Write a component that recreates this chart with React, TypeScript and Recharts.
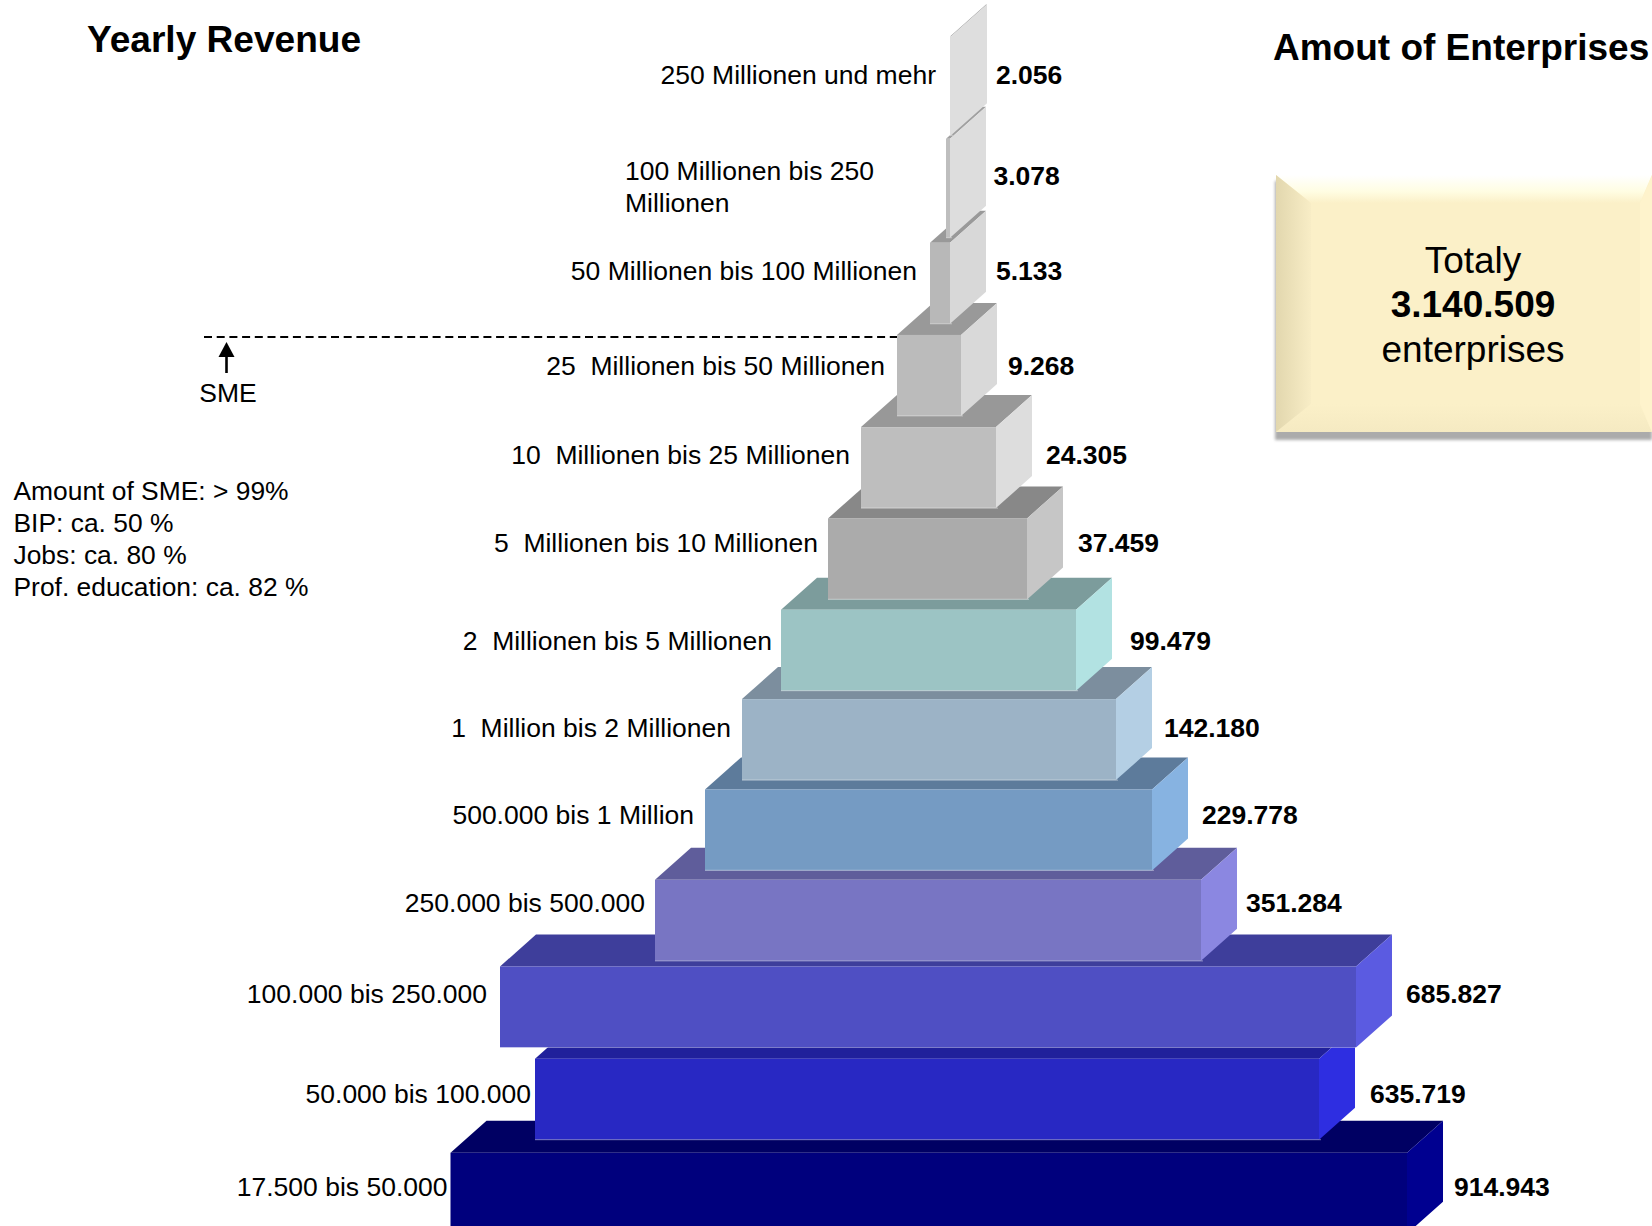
import React from "react";
import { BarChart, Bar, XAxis, YAxis, LabelList, ReferenceLine } from "recharts";

// Listed from the bottom of the pyramid to its top (lower blocks are painted first).
const bands = [
  "17.500 bis 50.000",
  "50.000 bis 100.000",
  "100.000 bis 250.000",
  "250.000 bis 500.000",
  "500.000 bis 1 Million",
  "1  Million bis 2 Millionen",
  "2  Millionen bis 5 Millionen",
  "5  Millionen bis 10 Millionen",
  "10  Millionen bis 25 Millionen",
  "25  Millionen bis 50 Millionen",
  "50 Millionen bis 100 Millionen",
  "100 Millionen bis 250|Millionen",
  "250 Millionen und mehr",
];
const enterprises = [
  "914.943", "635.719", "685.827", "351.284", "229.778", "142.180", "99.479",
  "37.459", "24.305", "9.268", "5.133", "3.078", "2.056",
];
// Extent of each block left and right of the pyramid's axis.
const leftExtent = [477.5, 393, 428, 273, 223, 186, 147, 100, 67, 31, -2, -18, -22];
const rightExtent = [479, 391, 428, 273, 224, 188, 148, 99, 68, 33, 22, 22, 23];
// Height of each block's centre, in rows counted from the top of the picture.
const rowLevels = [12.94, 11.92, 10.92, 9.98, 9.0, 8.02, 7.05, 6.06, 5.07, 4.07, 3.07, 2.04, 0.93];

const PX_PER_ROW = 92.2;
const frontColors = ["#00007D", "#2828C3", "#4F4FC3", "#7875C3", "#759BC3", "#9CB3C6", "#9CC4C4", "#ABABAB", "#BEBEBE", "#BBBBBB", "#B8B8B8", "#BEBEBE", "#DEDEDE"];
const sideColors = ["#000090", "#2E2EE1", "#5B5BE1", "#8B87E1", "#87B3E1", "#B4CFE4", "#B2E2E2", "#C6C6C6", "#DDDDDD", "#D9D9D9", "#D8D8D8", "#DDDDDD", "#DEDEDE"];
const topColors = ["#000063", "#20209B", "#3E3E9B", "#5F5D9B", "#5D7B9B", "#7C8E9E", "#7C9C9C", "#888888", "#989898", "#999999", "#999999", "#A0A0A0", "#A0A0A0"];
const labelGapX = [3, 4, 13, 10, 11, 11, 9, 10, 11, 12, 13, 0, 14];
const labelNudgeY = [-6, -5, -13, -17, -15, -12, -9, -16, -13, -9, -12, 0, -11];
const valueGapX = [11, 15, 14, 9, 14, 12, 18, 15, 14, 11, 10, 7.5, 9];
const valueNudgeY = [-6, -5, -13, -17, -15, -12, -9, -16, -13, -9, -12, -12, -11];
const tallRows = [11, 12];

const rows = bands.map((band, i) => ({
  band,
  count: enterprises[i],
  level: rowLevels[i],
  span: [-leftExtent[i], rightExtent[i]],
}));

const FONT = "'Liberation Sans', Arial, sans-serif";
const DX = 36;
const DY = 32;
const BAR_H = 81;

function Block(props: any) {
  const { x, y, width, height, index } = props;
  const h = tallRows.includes(index) ? height * 1.22 : height;
  const top = y + height / 2 - h / 2;
  const r = x + width;
  const b = top + h;
  return (
    <g>
      <polygon points={`${x},${top} ${x + DX},${top - DY} ${r + DX},${top - DY} ${r},${top}`} fill={topColors[index]} />
      <polygon points={`${r},${top} ${r + DX},${top - DY} ${r + DX},${b - DY} ${r},${b}`} fill={sideColors[index]} />
      <rect x={x} y={top} width={width} height={h} fill={frontColors[index]} />
      <line x1={x} x2={r + 2} y1={b} y2={b} stroke="#FFFFFF" strokeOpacity={0.35} strokeWidth={1.2} />
    </g>
  );
}

function BandLabel(props: any) {
  const { x, y, height, value, index } = props;
  const cy = y + height / 2 + labelNudgeY[index];
  const lines = String(value).split("|");
  if (lines.length > 1) {
    return (
      <text fontFamily={FONT} fontSize={26.5} fill="#000">
        <tspan x={625} y={180}>{lines[0]}</tspan>
        <tspan x={625} y={212}>{lines[1]}</tspan>
      </text>
    );
  }
  return (
    <text x={x - labelGapX[index]} y={cy + 9} textAnchor="end" fontFamily={FONT} fontSize={26.5} fill="#000" xmlSpace="preserve">
      {value}
    </text>
  );
}

function CountLabel(props: any) {
  const { x, y, width, height, value, index } = props;
  return (
    <text x={x + width + DX + valueGapX[index]} y={y + height / 2 + valueNudgeY[index] + 9} fontFamily={FONT} fontSize={26.5} fontWeight="bold" fill="#000">
      {value}
    </text>
  );
}

function TotalBox() {
  const L = 1276, T = 175, R = 1652, B = 432, EX = 35, EY = 28, RX = 12;
  return (
    <g>
      <defs>
        <linearGradient id="bevelLeft" x1="0" x2="1" y1="0" y2="0">
          <stop offset="0" stopColor="#E2D7AE" />
          <stop offset="1" stopColor="#F8EDC6" />
        </linearGradient>
        <linearGradient id="bevelTop" x1="0" x2="0" y1="0" y2="1">
          <stop offset="0" stopColor="#FFFFFF" />
          <stop offset="0.6" stopColor="#FFFDE2" />
          <stop offset="1" stopColor="#FBF0C8" />
        </linearGradient>
        <linearGradient id="bevelBottom" x1="0" x2="0" y1="0" y2="1">
          <stop offset="0" stopColor="#FBF0C8" />
          <stop offset="1" stopColor="#F5EAC2" />
        </linearGradient>
        <filter id="boxShadow" x="-5%" y="-5%" width="110%" height="115%">
          <feGaussianBlur stdDeviation="1.5" />
        </filter>
      </defs>
      <rect x={L - 1} y={T + 6} width={R - L + 1} height={B - T + 2} fill="#ABABAB" filter="url(#boxShadow)" />
      <rect x={L} y={T} width={R - L} height={B - T} fill="#FBF0C8" />
      <polygon points={`${L},${T} ${R},${T} ${R - RX},${T + EY} ${L + EX},${T + EY}`} fill="url(#bevelTop)" />
      <polygon points={`${L},${B} ${L + EX},${B - EY} ${R - RX},${B - EY} ${R},${B}`} fill="url(#bevelBottom)" />
      <polygon points={`${L},${T} ${L + EX},${T + EY} ${L + EX},${B - EY} ${L},${B}`} fill="url(#bevelLeft)" />
      <polygon points={`${R},${T} ${R - RX},${T + EY} ${R - RX},${B - EY} ${R},${B}`} fill="#FEF3CC" />
      <text textAnchor="middle" fontFamily={FONT} fontSize={37} fill="#000">
        <tspan x={1473} y={273}>Totaly</tspan>
        <tspan x={1473} y={317} fontWeight="bold">3.140.509</tspan>
        <tspan x={1473} y={362}>enterprises</tspan>
      </text>
    </g>
  );
}

export default function App() {
  return (
    <div style={{ position: "absolute", left: 0, top: 0, width: 1652, height: 1226, overflow: "hidden", background: "#fff" }}>
      <BarChart width={1652} height={1226} data={rows} layout="vertical" margin={{ top: 0, right: 0, bottom: 0, left: 0 }}>
        <XAxis type="number" hide domain={[-928, 724]} allowDataOverflow />
        <YAxis type="number" dataKey="level" hide domain={[0, 1226 / PX_PER_ROW]} allowDataOverflow width={0} />
        <ReferenceLine
          segment={[{ x: -724, y: 337 / PX_PER_ROW }, { x: -31, y: 337 / PX_PER_ROW }]}
          stroke="#000"
          strokeWidth={2}
          strokeDasharray="8 4.7"
        />
        <Bar dataKey="span" barSize={BAR_H} shape={<Block />} isAnimationActive={false}>
          <LabelList dataKey="band" content={<BandLabel />} />
          <LabelList dataKey="count" content={<CountLabel />} />
        </Bar>
        <text x={87} y={52} fontFamily={FONT} fontSize={37.1} fontWeight="bold" fill="#000">Yearly Revenue</text>
        <text x={1273} y={60} fontFamily={FONT} fontSize={37} fontWeight="bold" fill="#000">Amout of Enterprises</text>
        <polygon points="226.5,342 234.5,357 218.5,357" fill="#000" />
        <line x1={226.5} x2={226.5} y1={355} y2={373} stroke="#000" strokeWidth={2.6} />
        <text x={228} y={402} textAnchor="middle" fontFamily={FONT} fontSize={26.5} fill="#000">SME</text>
        <text fontFamily={FONT} fontSize={26.4} fill="#000">
          <tspan x={13.5} y={499.5}>Amount of SME: &gt; 99%</tspan>
          <tspan x={13.5} y={531.5}>BIP: ca. 50 %</tspan>
          <tspan x={13.5} y={563.5}>Jobs: ca. 80 %</tspan>
          <tspan x={13.5} y={595.5}>Prof. education: ca. 82 %</tspan>
        </text>
        <TotalBox />
      </BarChart>
    </div>
  );
}
